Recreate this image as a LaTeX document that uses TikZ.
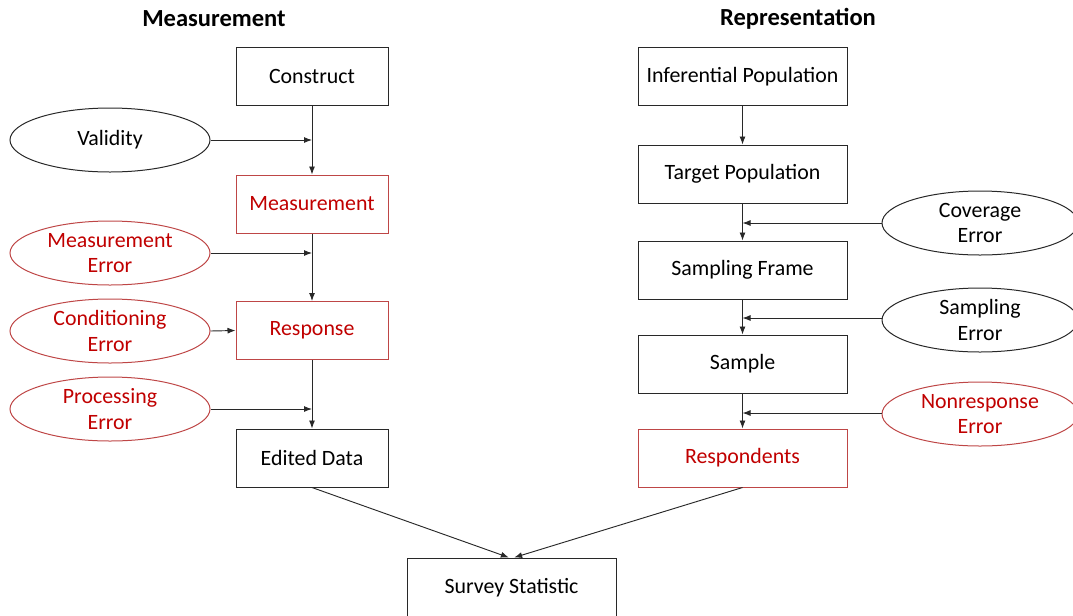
\documentclass[tikz,border=0pt]{standalone}
\usepackage{fontspec}
\setmainfont{Carlito}
\usetikzlibrary{arrows.meta,shapes.geometric}
\definecolor{dred}{RGB}{192,0,0}
\definecolor{bred}{RGB}{190,70,70}
\definecolor{bgray}{RGB}{40,40,40}
\tikzset{
  box/.style={draw=bgray,line width=0.75pt,minimum width=152*0.75pt,minimum height=58*0.75pt,inner sep=0pt,font=\fontsize{16.4}{19}\selectfont,align=center},
  wbox/.style={box,minimum width=209*0.75pt},
  redbox/.style={draw=bred,text=dred},
  oval/.style={ellipse,draw=bgray,line width=0.75pt,minimum width=200*0.75pt,minimum height=64*0.75pt,inner sep=0pt,font=\fontsize{16.4}{19}\selectfont,align=center},
  redoval/.style={draw=bred,text=dred},
  arr/.style={draw=bgray,line width=0.7pt,-{Latex[length=6pt,width=4.5pt]}},
  hdr/.style={font=\fontsize{18.4}{21}\selectfont\bfseries}
}
\begin{document}
\begin{tikzpicture}[x=0.75pt,y=-0.75pt]
\useasboundingbox (0,0) rectangle (1073,615);
% headers
\node[hdr] (h1) at (214,19) {Measurement};
\node[hdr] (h2) at (798,19) {Representation};
% left column
\node[box] (construct) at (312,76.5) {Construct};
\node[box,redbox] (meas) at (312,204) {Measurement};
\node[box,redbox] (resp) at (312,330.5) {Response};
\node[box] (edited) at (312,458) {Edited Data};
% bottom
\node[wbox,minimum height=70*0.75pt,text depth=0pt] (stat) at (511.5,593) {};
\node[font=\fontsize{16.4}{19}\selectfont] (stattxt) at (511.5,588) {Survey Statistic};
% right column
\node[wbox] (infpop) at (742.5,76.5) {Inferential Population};
\node[wbox] (target) at (742.5,174) {Target Population};
\node[wbox] (frame) at (742.5,270) {Sampling Frame};
\node[wbox] (sample) at (742.5,364) {Sample};
\node[wbox,redbox] (respond) at (742.5,458) {Respondents};
% left ovals
\node[oval] (validity) at (110,140) {Validity};
\node[oval,redoval] (measerr) at (110,253) {Measurement\\Error};
\node[oval,redoval] (conderr) at (110,331) {Conditioning\\Error};
\node[oval,redoval] (procerr) at (110,409) {Processing\\Error};
% right ovals
\node[oval,minimum width=196*0.75pt] (coverr) at (980,223) {Coverage\\Error};
\node[oval,minimum width=196*0.75pt] (samperr) at (980,320) {Sampling\\Error};
\node[oval,redoval,minimum width=196*0.75pt] (nonerr) at (980,414) {Nonresponse\\Error};
% coordinates on vertical lines
\coordinate (v1) at (312,140);
\coordinate (v2) at (312,253);
\coordinate (v3) at (312,409);
\coordinate (r1) at (742.5,223);
\coordinate (r2) at (742.5,318);
\coordinate (r3) at (742.5,413);
% vertical arrows
\draw[arr] (construct) -- (meas);
\draw[arr] (meas) -- (resp);
\draw[arr] (resp) -- (edited);
\draw[arr] (infpop) -- (target);
\draw[arr] (target) -- (frame);
\draw[arr] (frame) -- (sample);
\draw[arr] (sample) -- (respond);
% side arrows
\draw[arr] (validity.east) -- (v1);
\draw[arr] (measerr.east) -- (v2);
\draw[arr] (conderr.east) -- (resp.west);
\draw[arr] (procerr.east |- v3) -- (v3);
\draw[arr] (coverr.west) -- (r1);
\draw[arr] (samperr.west |- r2) -- (r2);
\draw[arr] (nonerr.west |- r3) -- (r3);
% to survey statistic
\draw[arr] (edited.south) -- ([xshift=-2pt]stat.north);
\draw[arr] (respond.south) -- ([xshift=2pt]stat.north);
\end{tikzpicture}
\end{document}
